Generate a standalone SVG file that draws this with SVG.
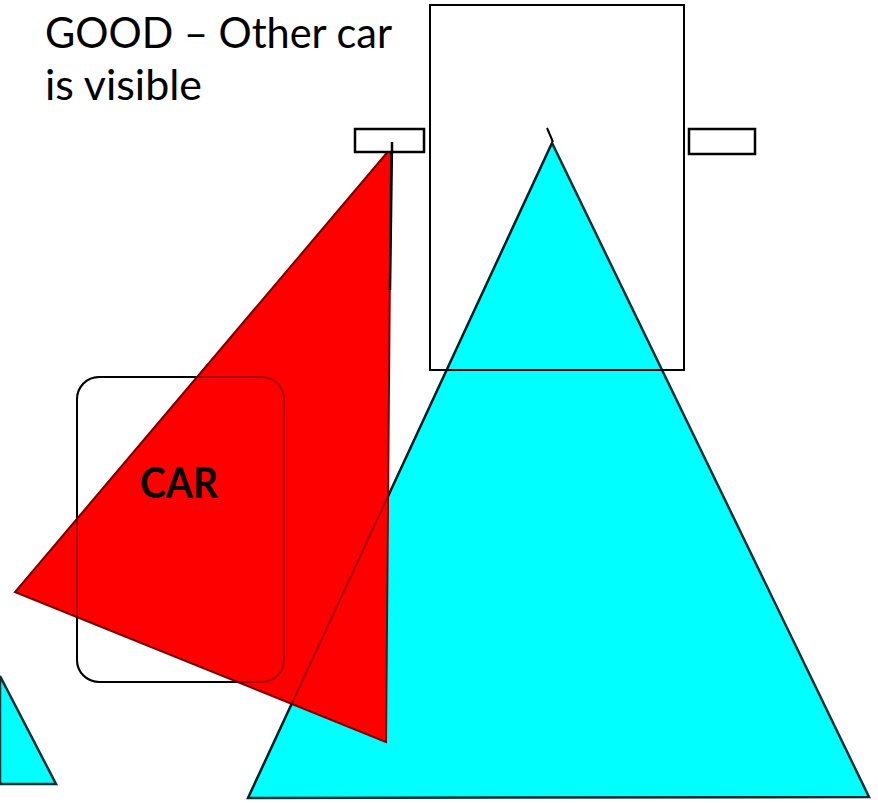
<svg xmlns="http://www.w3.org/2000/svg" width="878" height="803" viewBox="0 0 878 803">
<style>
.cyan{fill:#00ffff;stroke:#062f33;stroke-width:2.5;stroke-linejoin:miter}
.outline{fill:none;stroke:#000;stroke-width:2}
.ghost{fill:none;stroke:#000;stroke-opacity:0.35;stroke-width:2}
.red{fill:#ff0000;stroke:#7a0000;stroke-width:2}
.lbl{font-family:Lato,"Open Sans","Liberation Sans",sans-serif;fill:#000}
</style>
<rect width="878" height="803" fill="#fff"/>
<g id="view-cone">
<polygon class="cyan" points="552,143 248,798 869,797"/>
<line x1="547" y1="128" x2="553" y2="142" stroke="#000" stroke-width="2"/>
</g>
<g id="view-cone-small">
<polygon class="cyan" points="0,676 56,784 0,784"/>
</g>
<g id="own-car">
<rect class="outline" x="430" y="5" width="254" height="365"/>
</g>
<g id="other-car">
<rect class="outline" x="77" y="377" width="207" height="305" rx="22" ry="22"/>
</g>
<g id="blind-spot">
<polygon class="red" points="391,148 15,592 386,742"/>
<line x1="392" y1="142" x2="390" y2="290" stroke="#000" stroke-width="2.5"/>
</g>
<g id="overlay">
<polyline class="ghost" points="552,143 248,798"/>
<rect class="ghost" x="77" y="377" width="207" height="305" rx="22" ry="22"/>
</g>
<g id="mirror-left">
<rect x="355" y="129" width="69" height="23" fill="#fff" stroke="#000" stroke-width="2.5"/>
<line x1="392" y1="142" x2="392" y2="152" stroke="#000" stroke-width="2.5"/>
</g>
<g id="mirror-right">
<rect x="689" y="129" width="66" height="25" fill="#fff" stroke="#000" stroke-width="2.5"/>
</g>
<g id="caption">
<text class="lbl" x="45" y="48" font-size="43" textLength="347" lengthAdjust="spacingAndGlyphs">GOOD – Other car</text>
<text class="lbl" x="45" y="100" font-size="43" textLength="157" lengthAdjust="spacingAndGlyphs">is visible</text>
</g>
<g id="car-label">
<text class="lbl" x="140" y="498" font-size="42" font-weight="bold" textLength="78" lengthAdjust="spacingAndGlyphs">CAR</text>
</g>
</svg>
